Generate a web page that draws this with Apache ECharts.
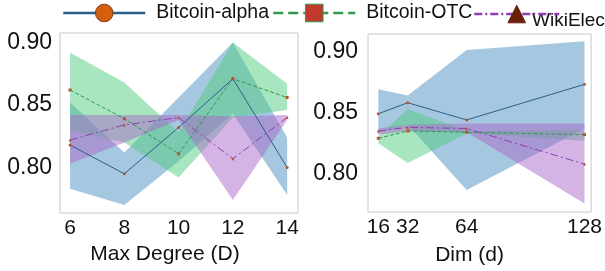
<!DOCTYPE html>
<html>
<head>
<meta charset="utf-8">
<script src="https://cdn.jsdelivr.net/npm/echarts@6/dist/echarts.min.js"></script>
<style>
  html, body { margin: 0; padding: 0; background: #fff; }
  #chart { width: 605px; height: 271px; }
</style>
</head>
<body>
<div id="chart"></div>
<script>
// left panel: max degree
const degX = [6, 8, 10, 12, 14];
const alphaDeg = [0.818, 0.795, 0.832, 0.871, 0.800];
const alphaDegLo = [0.783, 0.770, 0.805, 0.843, 0.778];
const alphaDegHi = [0.852, 0.812, 0.856, 0.900, 0.824];
const otcDeg = [0.862, 0.839, 0.811, 0.871, 0.856];
const otcDegLo = [0.830, 0.820, 0.792, 0.840, 0.846];
const otcDegHi = [0.892, 0.868, 0.828, 0.900, 0.867];
const wikiDeg = [0.822, 0.834, 0.840, 0.807, 0.840];
const wikiDegLo = [0.803, 0.820, 0.838, 0.774, 0.838];
const wikiDegHi = [0.842, 0.842, 0.842, 0.841, 0.842];

// right panel: embedding dim
const dimX = [16, 32, 64, 128];
const alphaDim = [0.849, 0.858, 0.844, 0.873];
const alphaDimLo = [0.833, 0.840, 0.787, 0.837];
const alphaDimHi = [0.869, 0.864, 0.901, 0.908];
const otcDim = [0.829, 0.835, 0.834, 0.832];
const otcDimLo = [0.825, 0.809, 0.833, 0.827];
const otcDimHi = [0.831, 0.853, 0.835, 0.836];
const wikiDim = [0.835, 0.838, 0.837, 0.808];
const wikiDimLo = [0.832, 0.835, 0.834, 0.776];
const wikiDimHi = [0.837, 0.840, 0.841, 0.841];

const yTicks = [0.80, 0.85, 0.90];
const degTicks = [6, 8, 10, 12, 14];
const dimTicks = [16, 32, 64, 128];

const names = ['Bitcoin-alpha', 'Bitcoin-OTC', 'WikiElec'];
const lineColors = ['#2b5f86', '#2e9a4e', '#8e3fae'];
const bandColors = ['#4b91c1', '#51cd81', '#a969c9'];
const dashTypes = ['solid', 'dashed', [8, 3, 2, 3]];
const symbols = ['circle', 'rect', 'triangle'];
const legendMarks = ['#d35f0f', '#c0392b', '#6b200c'];
const legendBorders = ['#7a3a10', '#2e9a4e', '#6b200c'];

function pairs(xs, ys) {
  return xs.map((x, i) => [x, ys[i]]);
}

// shaded min/max band drawn as one polygon through the axis scales
function bandSeries(idx, color, xs, lo, hi) {
  return {
    type: 'custom', xAxisIndex: idx, yAxisIndex: idx, silent: true, z: 1,
    data: xs.map((x, i) => [x, lo[i], hi[i]]),
    encode: { x: 0, y: [1, 2] },
    renderItem: function (params, api) {
      if (params.dataIndex !== 0) return;
      const top = xs.map((x, i) => api.coord([x, hi[i]]));
      const bottom = xs.map((x, i) => api.coord([x, lo[i]])).reverse();
      return {
        type: 'polygon',
        shape: { points: top.concat(bottom) },
        style: { fill: color, opacity: 0.5 }
      };
    }
  };
}

function meanSeries(idx, k, xs, ys) {
  return {
    type: 'line', xAxisIndex: idx, yAxisIndex: idx, name: names[k],
    data: pairs(xs, ys), symbol: symbols[k], symbolSize: 3,
    itemStyle: { color: '#b5562c' },
    lineStyle: { color: lineColors[k], width: 1, type: dashTypes[k] },
    z: 3
  };
}

const series = [];
const degSets = [[alphaDeg, alphaDegLo, alphaDegHi], [otcDeg, otcDegLo, otcDegHi], [wikiDeg, wikiDegLo, wikiDegHi]];
const dimSets = [[alphaDim, alphaDimLo, alphaDimHi], [otcDim, otcDimLo, otcDimHi], [wikiDim, wikiDimLo, wikiDimHi]];
degSets.forEach((s, k) => series.push(bandSeries(0, bandColors[k], degX, s[1], s[2])));
dimSets.forEach((s, k) => series.push(bandSeries(1, bandColors[k], dimX, s[1], s[2])));
degSets.forEach((s, k) => series.push(meanSeries(0, k, degX, s[0])));
dimSets.forEach((s, k) => series.push(meanSeries(1, k, dimX, s[0])));

function legendItem(k) {
  return {
    name: names[k],
    itemStyle: { color: legendMarks[k], borderColor: legendBorders[k], borderWidth: 1 },
    lineStyle: { color: lineColors[k], width: 2.5, type: dashTypes[k] }
  };
}

const font = 'Liberation Sans, Arial, Helvetica, sans-serif';

function xAxis(idx, min, max, ticks, name, gap, pad) {
  return {
    type: 'value', gridIndex: idx, min: min, max: max,
    name: name, nameLocation: 'middle', nameGap: gap,
    nameTextStyle: { fontSize: 21, color: '#111', fontFamily: font, padding: pad },
    axisLine: { show: false }, axisTick: { show: false }, splitLine: { show: false },
    axisLabel: { customValues: ticks, fontSize: 21, color: '#111', fontFamily: font, margin: 5 }
  };
}

function yAxis(idx, min, max, margin) {
  return {
    type: 'value', gridIndex: idx, min: min, max: max,
    axisLine: { show: false }, axisTick: { show: false }, splitLine: { show: false },
    axisLabel: {
      customValues: yTicks, fontSize: 23, color: '#111', fontFamily: font, margin: margin,
      formatter: v => v.toFixed(2)
    }
  };
}

const chart = echarts.init(document.getElementById('chart'));
chart.setOption({
  animation: false,
  grid: [
    { left: 60, top: 33, width: 238, height: 180, show: true, borderColor: '#c8c8c8', borderWidth: 1 },
    { left: 368, top: 34, width: 240, height: 179, show: true, borderColor: '#c8c8c8', borderWidth: 1 }
  ],
  legend: [
    {
      data: [legendItem(0), legendItem(1)],
      left: 62, top: 3, padding: 0, itemGap: 3,
      itemWidth: 82, itemHeight: 22,
      textStyle: { fontSize: 19.5, color: '#111', fontFamily: font, padding: [0, 0, 4, 6] }
    },
    {
      data: [legendItem(2)],
      left: 473, top: 3, padding: 0,
      itemWidth: 85, itemHeight: 22,
      formatter: () => ''
    }
  ],
  graphic: [
    {
      type: 'text', left: 532, top: 11,
      style: { text: 'WikiElec', fontSize: 19, fill: '#111', fontFamily: font }
    }
  ],
  xAxis: [
    xAxis(0, 5.63, 14.4, degTicks, 'Max Degree (D)', 29, [0, 28, 0, 0]),
    xAxis(1, 10.4, 131.6, dimTicks, 'Dim (d)', 33, [0, 20, 0, 0])
  ],
  yAxis: [
    yAxis(0, 0.7636, 0.9076, 8),
    yAxis(1, 0.769, 0.914, 10)
  ],
  series: series
});
</script>
</body>
</html>
